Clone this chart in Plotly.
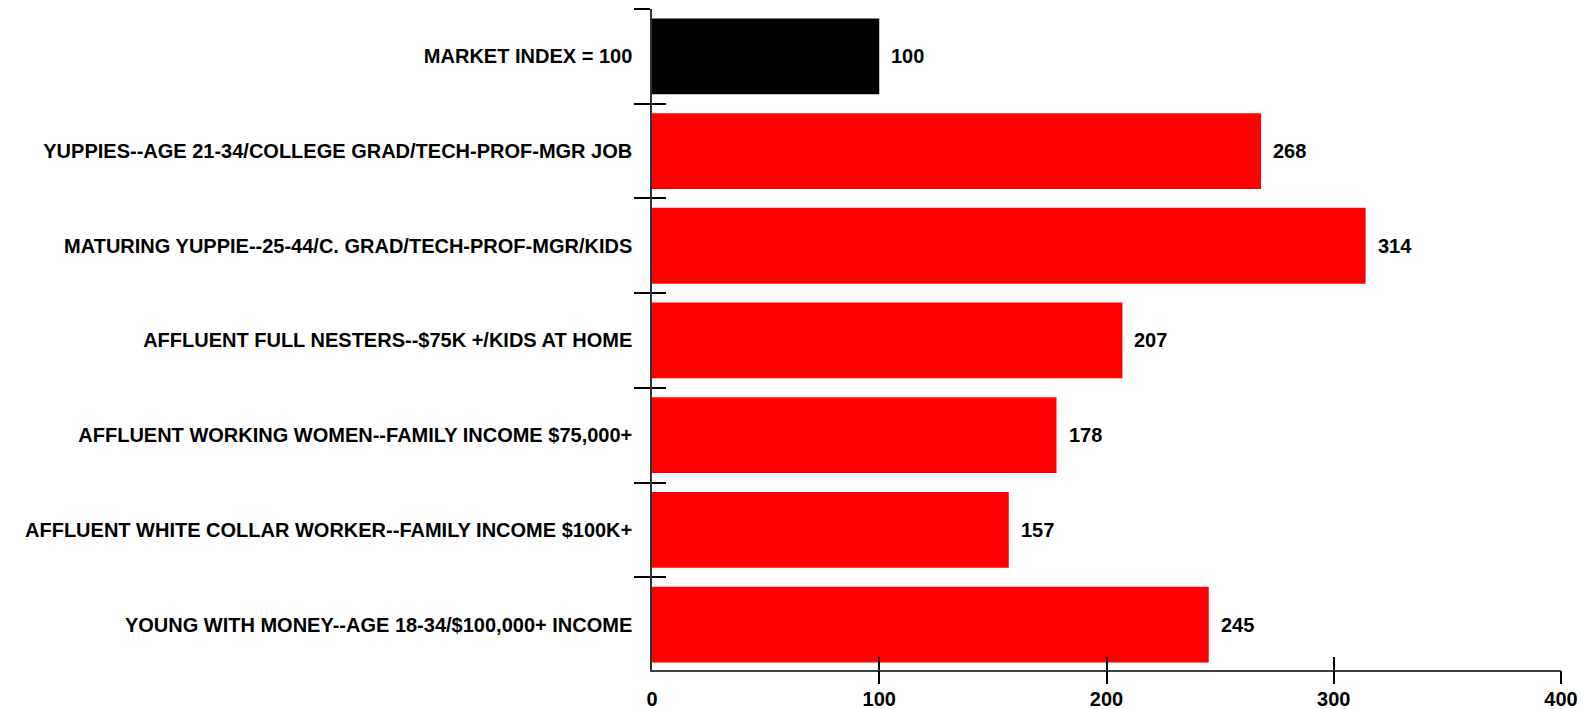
import plotly.graph_objects as go

# Segment index values (market = 100), listed top to bottom
segments = [
    "MARKET INDEX = 100",
    "YUPPIES--AGE 21-34/COLLEGE GRAD/TECH-PROF-MGR JOB",
    "MATURING YUPPIE--25-44/C. GRAD/TECH-PROF-MGR/KIDS",
    "AFFLUENT FULL NESTERS--$75K +/KIDS AT HOME",
    "AFFLUENT WORKING WOMEN--FAMILY INCOME $75,000+",
    "AFFLUENT WHITE COLLAR WORKER--FAMILY INCOME $100K+",
    "YOUNG WITH MONEY--AGE 18-34/$100,000+ INCOME",
]
index_values = [100, 268, 314, 207, 178, 157, 245]
bar_colors = ["#000000", "#FF0000", "#FF0000", "#FF0000", "#FF0000", "#FF0000", "#FF0000"]

x_ticks = [0, 100, 200, 300, 400]

FONT = dict(family="Liberation Sans, Arial, sans-serif", size=20, color="#000000", weight="bold")
y_range = [len(segments) - 0.52, -0.5]
x_range = [0, 400]

fig = go.Figure()

fig.add_trace(go.Bar(
    x=index_values,
    y=segments,
    orientation="h",
    marker=dict(color=bar_colors, line=dict(width=0)),
    hoverinfo="x+y",
    showlegend=False,
))

# invisible companion traces carrying the overlay axes (crossing ticks)
fig.add_trace(go.Scatter(
    x=index_values, y=segments, yaxis="y2", mode="markers",
    marker=dict(opacity=0), hoverinfo="skip", showlegend=False,
))
fig.add_trace(go.Scatter(
    x=index_values, y=segments, xaxis="x2", mode="markers",
    marker=dict(opacity=0), hoverinfo="skip", showlegend=False,
))

# value labels next to each bar end
for seg, v in zip(segments, index_values):
    fig.add_annotation(
        x=v, y=seg, text=str(v), showarrow=False,
        xanchor="left", yanchor="middle", xshift=10,
        font=FONT,
    )

fig.update_layout(
    width=1585,
    height=709,
    margin=dict(l=652, r=24, t=9, b=39),
    paper_bgcolor="white",
    plot_bgcolor="white",
    bargap=0.2,
    font=FONT,
    xaxis=dict(
        range=x_range,
        automargin=False,
        tickmode="array",
        tickvals=x_ticks,
        ticktext=[str(t) for t in x_ticks],
        ticks="inside",
        ticklen=13,
        tickwidth=1.5,
        tickcolor="#000000",
        showline=True,
        linecolor="#404040",
        linewidth=2,
        showgrid=False,
        zeroline=False,
        tickfont=FONT,
        ticklabelstandoff=10,
    ),
    xaxis2=dict(
        range=x_range,
        automargin=False,
        overlaying="x",
        anchor="y",
        side="bottom",
        tickmode="array",
        tickvals=x_ticks[1:],
        ticks="outside",
        ticklen=13,
        tickwidth=1.5,
        tickcolor="#000000",
        showticklabels=False,
        showline=False,
        showgrid=False,
        zeroline=False,
    ),
    yaxis=dict(
        type="category",
        automargin=False,
        categoryorder="array",
        categoryarray=segments,
        range=y_range,
        ticks="outside",
        tickson="boundaries",
        ticklen=16,
        tickwidth=1.5,
        tickcolor="#000000",
        showline=True,
        linecolor="#333333",
        linewidth=1.5,
        showgrid=False,
        zeroline=False,
        tickfont=FONT,
        ticklabelstandoff=14,
    ),
    yaxis2=dict(
        type="category",
        automargin=False,
        categoryorder="array",
        categoryarray=segments,
        range=y_range,
        overlaying="y",
        side="left",
        anchor="x",
        ticks="inside",
        tickson="boundaries",
        ticklen=14,
        tickwidth=1.5,
        tickcolor="#000000",
        showticklabels=False,
        showline=False,
        showgrid=False,
        zeroline=False,
    ),
)

fig.write_html("out.html")
